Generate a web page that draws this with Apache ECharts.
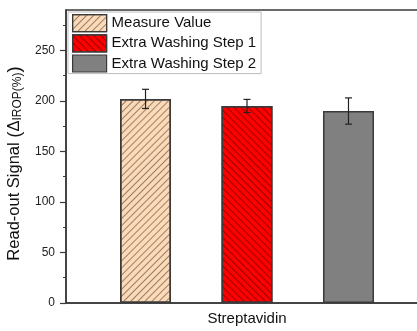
<!DOCTYPE html>
<html><head><meta charset="utf-8">
<script src="https://cdn.jsdelivr.net/npm/echarts@6/dist/echarts.min.js"></script>
<style>html,body{margin:0;padding:0;background:#fff}#c{width:417px;height:331px}</style>
</head><body><div id="c"></div>
<script>
const categories = ['Streptavidin'];
const seriesNames = ['Measure Value', 'Extra Washing Step 1', 'Extra Washing Step 2'];
const values = [202, 195, 190];
const errors = [9.5, 6.5, 13];
const yTicks = [0, 50, 100, 150, 200, 250];

const colors = ['#FDD9B5', '#FF0000', '#808080'];
const decals = [
  {symbol:'rect', dashArrayX:[1,0], dashArrayY:[1,4], rotation: -Math.PI/4, color:'rgba(110,100,90,0.75)', symbolSize:1},
  {symbol:'rect', dashArrayX:[1,0], dashArrayY:[1,4], rotation: Math.PI/4, color:'rgba(90,0,0,0.6)', symbolSize:1},
  'none'
];
const barWidth = 51;
const gapRatio = 0.99;
const chart = echarts.init(document.getElementById('c'), null, {renderer:'canvas'});
const series = [];
seriesNames.forEach((n, i) => {
  series.push({
    name: n, type: 'bar', barWidth: barWidth, barGap: (gapRatio*100)+'%',
    data: [values[i]],
    itemStyle: {color: colors[i], borderColor: '#3a3a3a', borderWidth: 1.5,
      decal: decals[i] === 'none' ? null : decals[i]},
    emphasis: {disabled: true}
  });
});
seriesNames.forEach((n, i) => {
  series.push({
    type: 'custom', name: n + ' err',
    data: [[0, values[i], errors[i]]],
    z: 10,
    renderItem: function (params, api) {
      const v = api.value(1), e = api.value(2);
      const off = (i - 1) * barWidth * (1 + gapRatio);
      const hi = api.coord([0, v + e]);
      const lo = api.coord([0, v - e]);
      const x = hi[0] + off;
      const cap = 3.5;
      const st = {stroke: '#222', lineWidth: 1.2};
      return {type: 'group', children: [
        {type: 'line', shape: {x1: x, y1: hi[1], x2: x, y2: lo[1]}, style: st},
        {type: 'line', shape: {x1: x - cap, y1: hi[1], x2: x + cap, y2: hi[1]}, style: st},
        {type: 'line', shape: {x1: x - cap, y1: lo[1], x2: x + cap, y2: lo[1]}, style: st}
      ]};
    }
  });
});
chart.setOption({
  animation: false,
  aria: {enabled: false},
  grid: {left: 66, top: 10, right: -11, bottom: 28, outerBoundsMode: 'none', containLabel: false,
    show: true, borderColor: '#3a3a3a', borderWidth: 1.5, backgroundColor: 'transparent'},
  legend: {
    data: seriesNames, orient: 'vertical', left: 68, top: 12, icon: 'rect',
    itemWidth: 34, itemHeight: 17, itemGap: 2, padding: [2, 5, 1, 4],
    borderColor: '#bdbdbd', borderWidth: 1, backgroundColor: '#fff',
    textStyle: {fontFamily: 'Liberation Sans', fontSize: 15, color: '#111'},
    itemStyle: {borderColor: '#3a3a3a', borderWidth: 1.2}
  },
  xAxis: {
    type: 'category', data: categories,
    axisLine: {lineStyle: {color: '#3a3a3a', width: 1.5}},
    axisTick: {show: false},
    axisLabel: {fontFamily: 'Liberation Sans', fontSize: 15, color: '#111', margin: 8}
  },
  yAxis: {
    type: 'value', min: 0, max: 290, interval: 50,
    name: '{a|Read-out Signal }{p|(}{a|Δ}{s|IROP(%)}{p|)}',
    nameLocation: 'middle', nameGap: 40, nameRotate: 90,
    nameTextStyle: {padding: [0, 14, 0, 0], rich: {
      a: {fontFamily: 'Liberation Sans', fontSize: 16.5, color: '#111'},
      p: {fontFamily: 'Liberation Sans', fontSize: 18.5, color: '#111'},
      s: {fontFamily: 'Liberation Sans', fontSize: 12, color: '#111', verticalAlign: 'bottom', padding: [7, 0, 0, 0]}
    }},
    axisLine: {show: true, lineStyle: {color: '#3a3a3a', width: 1.5}},
    axisTick: {show: true, inside: false, length: 6, lineStyle: {color: '#3a3a3a', width: 1.2}, customValues: yTicks},
    minorTick: {show: true, splitNumber: 2, length: 3, lineStyle: {color: '#3a3a3a', width: 1}},
    axisLabel: {fontFamily: 'Liberation Sans', fontSize: 12, color: '#222', margin: 11, customValues: yTicks},
    splitLine: {show: false}
  },
  series: series
});
</script></body></html>
